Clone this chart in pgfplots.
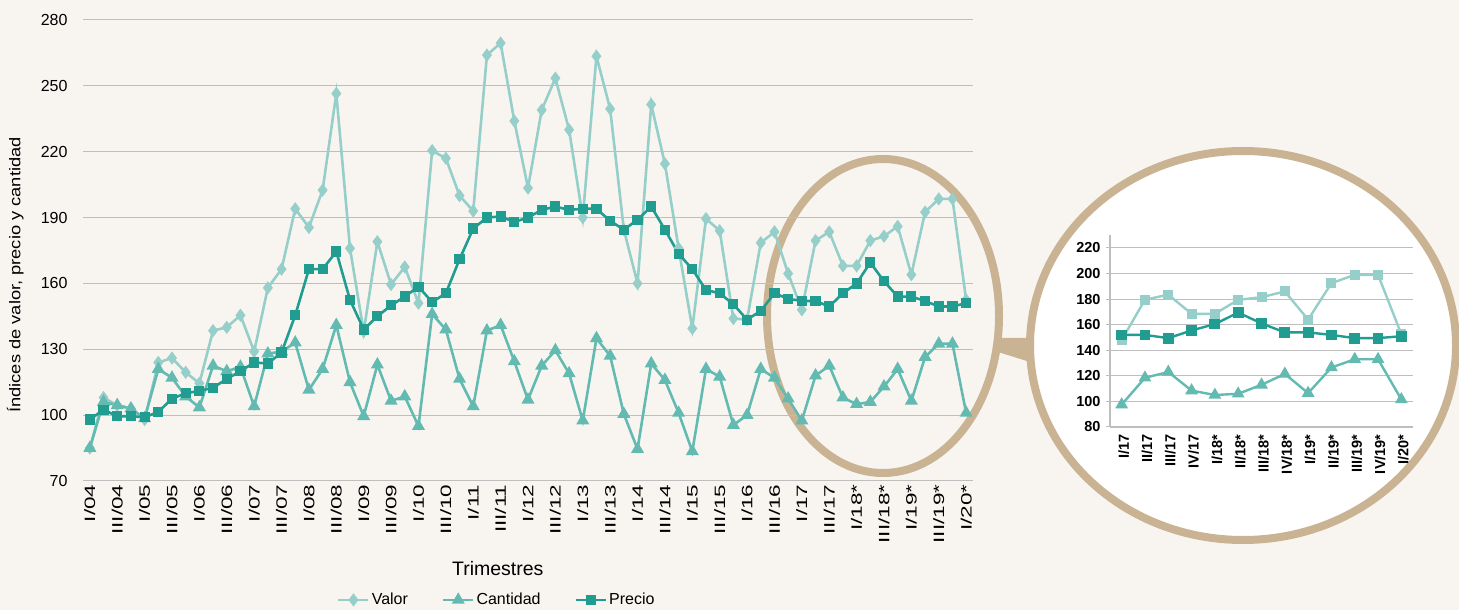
\documentclass[border=0pt]{standalone}
\usepackage{graphicx}
\usepackage{pgfplots}
\pgfplotsset{compat=1.18}
\usepackage{pgfplotstable}
\usepackage{fontspec}
\setmainfont{Liberation Sans}
\newcommand\fs[1]{\fontsize{#1}{#1}\selectfont}
\newcommand\xl[1]{\scalebox{1.5}[1]{#1}}

\definecolor{bg}{RGB}{248,245,241}
\definecolor{valorc}{RGB}{150,206,201}
\definecolor{cantc}{RGB}{99,186,177}
\definecolor{precioc}{RGB}{33,156,144}
\definecolor{tan}{RGB}{202,179,146}
\definecolor{gridc}{RGB}{190,190,190}

% trimestres I/04 .. I/20*  (q = 0..64)
\pgfplotstableread{
q v c p
0 85 85 98
1 108 106 102.5
2 104.5 104.5 99.5
3 103 103 99.5
4 98 98.5 99
5 124 121 101.5
6 126 117 107.5
7 119.5 108.5 110
8 114.5 103.5 111
9 138.5 122.5 112.5
10 140 120 116.5
11 145.5 122 120
12 129 104 124
13 158 128 123.5
14 166.5 129 128.5
15 194 133 145.5
16 185.5 111.5 166.5
17 202.5 121 166.5
18 246.5 141 174.5
19 176 115 152.5
20 138 99.5 139
21 179 123 145
22 159.5 106.5 150
23 167.5 108.5 154
24 151 95 158.5
25 220.5 146 151.5
26 217 139 155.5
27 200 116.5 171
28 193 104 185
29 264 138.5 190
30 269.5 141 190.5
31 234 124.5 188
32 203.5 107 190
33 239 122.5 193.5
34 253.5 129.5 195
35 230 119 193.5
36 190 97.5 194
37 263.5 135 194
38 239.5 127 188.5
39 184.5 100.5 184.5
40 160 84.5 189
41 241.5 123.5 195
42 214.5 116 184.5
43 176 101 173.5
44 139.5 83.5 166.5
45 189.5 121 157
46 184 117.5 155.5
47 144 95.5 150.5
48 143.5 100 143.5
49 178.5 121 147.5
50 183.5 117 155.5
51 164.5 107.5 153
52 148 97.5 152
53 179.5 118 152
54 183.5 122.5 149.5
55 168 108 155.5
56 168 105 160
57 179.5 106 169.5
58 181.5 113 161
59 186 121 154
60 164 106.5 154
61 192.5 126.5 152
62 198.5 132.5 149.5
63 198.5 132.5 149.5
64 152.5 101 151
}\maindata

% detalle I/17 .. I/20*
\pgfplotstableread{
q v c p
0 148 97.5 152
1 179.5 118.5 152
2 183.5 123 149.5
3 168.5 108.5 155.5
4 168.5 105 160.5
5 179.5 106 169.5
6 181.5 113 161
7 186 121.5 154
8 164 106.5 154
9 192.5 126.5 152
10 199 133 149.5
11 199 133 149.5
12 152.5 101.5 151
}\insetdata

\pgfplotsset{/pgf/number format/assume math mode=true}

\begin{document}
\begin{tikzpicture}[x=1pt,y=1pt]
\path[use as bounding box] (0,0) rectangle (1459,610);
\clip (0,0) rectangle (1459,610);
\fill[bg] (0,0) rectangle (1459,610);
\coordinate (mainSW) at (83,129);
\coordinate (insetSW) at (1110,183);

% lupa
\fill[tan] (998,272) -- (1030,272) -- (1030,248) -- (998,258) -- cycle;
\draw[tan, line width=8pt] (883,294) ellipse [x radius=116pt, y radius=157pt];
\filldraw[fill=white, draw=tan, line width=8pt] (1243,264.5) ellipse [x radius=213pt, y radius=194.5pt];

\begin{axis}[
    at={(mainSW)}, anchor=south west,
    scale only axis, width=890pt, height=461pt,
    xmin=-0.5, xmax=64.5, ymin=70, ymax=280,
    axis line style={draw=none},
    major tick length=0pt,
    ytick={70,100,...,280},
    ymajorgrids,
    grid style={gridc, line width=1pt},
    xtick={0,2,...,64},
    xticklabels={\xl{I/04},\xl{III/04},\xl{I/05},\xl{III/05},\xl{I/06},\xl{III/06},\xl{I/07},\xl{III/07},\xl{I/08},\xl{III/08},\xl{I/09},\xl{III/09},\xl{I/10},\xl{III/10},\xl{I/11},\xl{III/11},\xl{I/12},\xl{III/12},\xl{I/13},\xl{III/13},\xl{I/14},\xl{III/14},\xl{I/15},\xl{III/15},\xl{I/16},\xl{III/16},\xl{I/17},\xl{III/17},\xl{I/18*},\xl{III/18*},\xl{I/19*},\xl{III/19*},\xl{I/20*}},
    xticklabel style={rotate=90, anchor=east, font=\fs{15}},
    yticklabel style={font=\fs{16}, xshift=-12pt},
    ylabel={\scalebox{1.18}[1]{Índices de valor, precio y cantidad}},
    ylabel style={at={(axis description cs:-0.076,0.447)}, anchor=center, font=\fs{15.5}},
    xlabel={Trimestres},
    xlabel style={at={(axis description cs:0.466,-0.189)}, anchor=center, font=\fs{19.5}},
    legend columns=3,
    legend style={draw=none, fill=none, at={(axis description cs:0.465,-0.258)}, anchor=center,
        font=\fs{16}, /tikz/every even column/.append style={column sep=32pt}},
    legend image code/.code={\draw[mark repeat=2,mark phase=2] plot coordinates {(0pt,0pt) (15pt,0pt) (30pt,0pt)};},
]
\addplot[valorc, line width=2.6pt, mark=diamond*, mark size=4.5pt] table[x=q, y=v] {\maindata};
\addlegendentry{Valor}
\addplot[cantc, line width=2.6pt, mark=triangle*, mark size=5pt] table[x=q, y=c] {\maindata};
\addlegendentry{Cantidad}
\addplot[precioc, line width=2.6pt, mark=square*, mark size=3.8pt] table[x=q, y=p] {\maindata};
\addlegendentry{Precio}
\end{axis}

\begin{axis}[
    at={(insetSW)}, anchor=south west,
    scale only axis, width=303pt, height=191.8pt,
    xmin=-0.5, xmax=12.5, ymin=80, ymax=230,
    axis lines=left,
    axis line style={-, gridc, line width=1.2pt},
    ytick={80,100,...,220},
    ymajorgrids,
    grid style={gridc, line width=1pt},
    tick align=outside,
    ytick style={gridc, line width=1pt},
    xtick style={draw=none},
    major tick length=4pt,
    xtick={0,...,12},
    xticklabels={I/17,II/17,III/17,IV/17,I/18*,II/18*,III/18*,IV/18*,I/19*,II/19*,III/19*,IV/19*,I/20*},
    xticklabel style={rotate=90, anchor=east, font=\bfseries\fs{14.5}, yshift=-2pt},
    yticklabel style={font=\bfseries\fs{14.5}, xshift=-2pt},
]
\addplot[valorc, line width=2.4pt, mark=square*, mark size=3.8pt] table[x=q, y=v] {\insetdata};
\addplot[cantc, line width=2.4pt, mark=triangle*, mark size=5pt] table[x=q, y=c] {\insetdata};
\addplot[precioc, line width=2.4pt, mark=square*, mark size=4.2pt] table[x=q, y=p] {\insetdata};
\end{axis}
\end{tikzpicture}
\end{document}
